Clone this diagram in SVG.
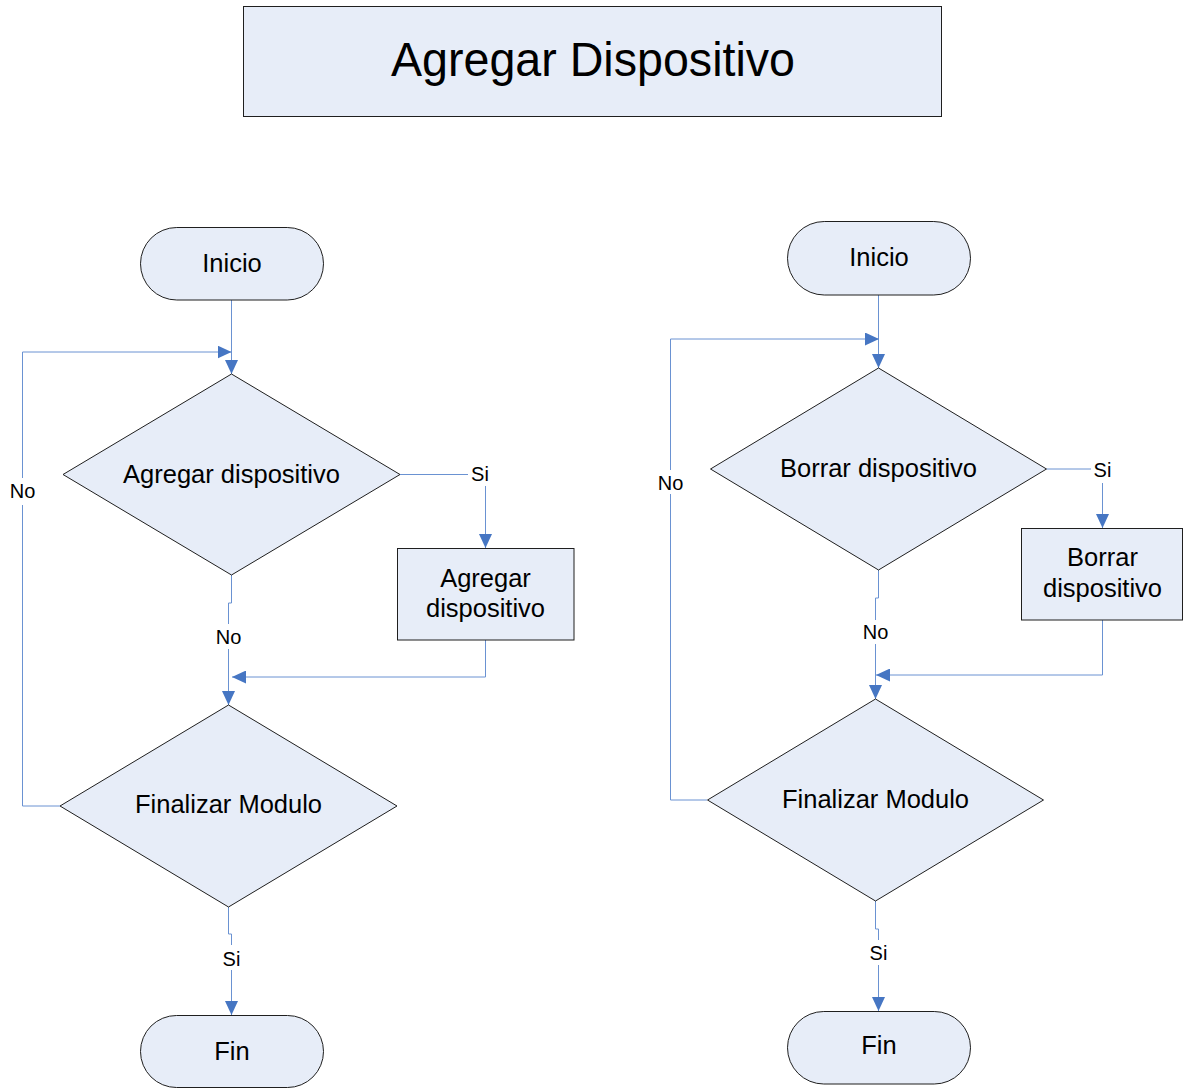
<svg xmlns="http://www.w3.org/2000/svg" width="1183" height="1088" viewBox="0 0 1183 1088">
  <style>
    .shape { fill: #e7edf8; stroke: #1f1f1f; stroke-width: 1; }
    .txt { font-family: "Liberation Sans", Arial, sans-serif; font-size: 25.5px; fill: #000; text-anchor: middle; }
    .title { font-family: "Liberation Sans", Arial, sans-serif; font-size: 49px; fill: #000; text-anchor: middle; }
    .conn { fill: none; stroke: #6a92d2; stroke-width: 1; }
    .arrow { marker-end: url(#head); }
    .lbl { font-family: "Liberation Sans", Arial, sans-serif; font-size: 20px; fill: #000; text-anchor: middle; }
    .lblbg { fill: #ffffff; stroke: none; }
  </style>
  <defs>
    <marker id="head" markerUnits="userSpaceOnUse" markerWidth="14" markerHeight="13" refX="14" refY="6.5" orient="auto">
      <path d="M0,0 L14,6.5 L0,13 Z" fill="#4676c3"/>
    </marker>
  </defs>

  <rect width="1183" height="1088" fill="#ffffff"/>

  <!-- Title -->
  <g id="title">
    <rect class="shape" x="243.5" y="6.5" width="698" height="110"/>
    <text class="title" x="593" y="76" textLength="404" lengthAdjust="spacingAndGlyphs">Agregar Dispositivo</text>
  </g>

  <!-- Connectors -->
  <g id="connectors">
    <!-- left flow -->
    <path class="conn arrow" d="M231.5,300 V374"/>
    <path class="conn arrow" d="M400,474.5 H485.5 V548"/>
    <path class="conn arrow" d="M231.5,575 V603 H228.5 V705"/>
    <path class="conn arrow" d="M485.5,640 V677 H232"/>
    <path class="conn arrow" d="M60,806 H22.5 V352 H231.5"/>
    <path class="conn arrow" d="M228.5,907 V934 H231.5 V1015"/>
    <!-- right flow -->
    <path class="conn arrow" d="M878.5,295 V368"/>
    <path class="conn arrow" d="M1046.5,469 H1102.5 V528"/>
    <path class="conn arrow" d="M878.5,570 V598 H875.5 V699"/>
    <path class="conn arrow" d="M1102.5,620 V675 H876"/>
    <path class="conn arrow" d="M707,800 H670.5 V339 H879"/>
    <path class="conn arrow" d="M875.5,901 V929 H878.5 V1011"/>

    <!-- branch labels -->
    <rect class="lblbg" x="468" y="462" width="23" height="24"/>
    <text class="lbl" x="480" y="481">Si</text>
    <rect class="lblbg" x="214" y="624" width="29" height="25"/>
    <text class="lbl" x="228.5" y="644">No</text>
    <rect class="lblbg" x="8" y="478" width="29" height="27"/>
    <text class="lbl" x="22.5" y="498">No</text>
    <rect class="lblbg" x="220" y="945" width="23" height="25"/>
    <text class="lbl" x="231.5" y="966">Si</text>

    <rect class="lblbg" x="1091" y="458" width="23" height="25"/>
    <text class="lbl" x="1102.5" y="477">Si</text>
    <rect class="lblbg" x="861" y="620" width="29" height="24"/>
    <text class="lbl" x="875.5" y="639">No</text>
    <rect class="lblbg" x="656" y="470" width="29" height="24"/>
    <text class="lbl" x="670.5" y="489.5">No</text>
    <rect class="lblbg" x="867" y="940" width="23" height="25"/>
    <text class="lbl" x="878.5" y="960">Si</text>
  </g>

  <!-- Left flow nodes -->
  <g id="inicio-agregar">
    <rect class="shape" x="140.5" y="227.5" width="183" height="72.5" rx="36.25" ry="36.25"/>
    <text class="txt" x="232" y="272">Inicio</text>
  </g>
  <g id="decision-agregar">
    <polygon class="shape" points="231.5,374 400,474.5 231.5,575 63,474.5"/>
    <text class="txt" x="231.5" y="483">Agregar dispositivo</text>
  </g>
  <g id="proceso-agregar">
    <rect class="shape" x="397.5" y="548.5" width="176.5" height="91.5"/>
    <text class="txt" x="485.5" y="587">Agregar</text>
    <text class="txt" x="485.5" y="617">dispositivo</text>
  </g>
  <g id="finalizar-agregar">
    <polygon class="shape" points="228.5,705 397,806 228.5,907 60,806"/>
    <text class="txt" x="228.5" y="813">Finalizar Modulo</text>
  </g>
  <g id="fin-agregar">
    <rect class="shape" x="140.5" y="1015.5" width="183" height="72" rx="36" ry="36"/>
    <text class="txt" x="232" y="1060">Fin</text>
  </g>

  <!-- Right flow nodes -->
  <g id="inicio-borrar">
    <rect class="shape" x="787.5" y="221.5" width="183" height="73.5" rx="36.75" ry="36.75"/>
    <text class="txt" x="879" y="266">Inicio</text>
  </g>
  <g id="decision-borrar">
    <polygon class="shape" points="878.5,368 1046.5,469 878.5,570 710.5,469"/>
    <text class="txt" x="878.5" y="477">Borrar dispositivo</text>
  </g>
  <g id="proceso-borrar">
    <rect class="shape" x="1021.5" y="528.5" width="161" height="91.5"/>
    <text class="txt" x="1102.5" y="566">Borrar</text>
    <text class="txt" x="1102.5" y="597">dispositivo</text>
  </g>
  <g id="finalizar-borrar">
    <polygon class="shape" points="875.5,699 1043.5,800 875.5,901 707.5,800"/>
    <text class="txt" x="875.5" y="808">Finalizar Modulo</text>
  </g>
  <g id="fin-borrar">
    <rect class="shape" x="787.5" y="1011.5" width="183" height="72.5" rx="36.25" ry="36.25"/>
    <text class="txt" x="879" y="1054">Fin</text>
  </g>
</svg>
